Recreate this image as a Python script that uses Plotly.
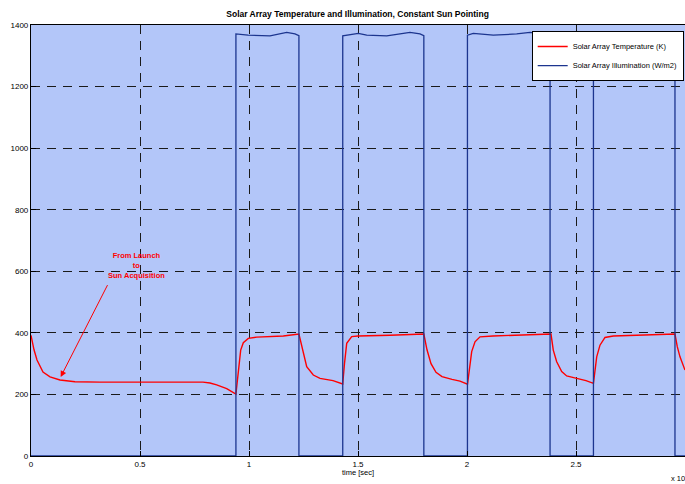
import plotly.graph_objects as go

# ---- data (time in seconds) ----
illum_t = [0, 9400, 9400, 9954, 10963, 11729, 12110, 12290, 12290,
           14300, 14300, 14482, 15014, 15399, 16317, 17385, 17844, 18020, 18020,
           20020, 20020, 20289, 20748, 21206, 22280, 22890, 23578, 23810, 23810,
           25800, 25800, 26100, 27018, 28394, 29083, 29540, 29540, 30000]
illum_v = [0, 0, 1371, 1367, 1365, 1376, 1371, 1365, 0,
           0, 1365, 1367, 1373, 1367, 1365, 1376, 1371, 1365, 0,
           0, 1367, 1373, 1371, 1367, 1371, 1376, 1370, 1366, 0,
           0, 1366, 1370, 1370, 1377, 1374, 1366, 0, 0]

temp_t = [0, 138, 275, 413, 550, 872, 1330, 2018, 3165, 7890, 8211, 8518, 8977, 9400,
          9509, 9619, 9739, 9968, 10353, 10963, 11573, 12290,
          12431, 12523, 12647, 12950, 13257, 13853, 14298,
          14380, 14482, 14711, 15000, 16468, 18020,
          18165, 18349, 18578, 18853, 19312, 19679, 20023,
          20105, 20215, 20367, 20596, 21192, 23810,
          23853, 23958, 24114, 24344, 24573, 25032, 25459, 25800,
          25950, 26100, 26330, 26711, 29450, 29540,
          29646, 29770, 30000]
temp_v = [392, 345, 312, 290, 273, 257, 247, 241, 240, 240, 237, 231, 219, 201,
          279, 344, 368, 382, 386, 388, 390, 396,
          350, 320, 290, 263, 252, 245, 234,
          300, 366, 388, 390, 392, 396,
          345, 300, 272, 258, 249, 243, 233,
          274, 339, 371, 387, 390, 396,
          396, 344, 306, 274, 260, 252, 245, 236,
          322, 360, 385, 390, 396, 396,
          355, 322, 279]

x_tickvals = [0, 5000, 10000, 15000, 20000, 25000, 30000]
x_ticktext = ["0", "0.5", "1", "1.5", "2", "2.5", "3"]
y_tickvals = [0, 200, 400, 600, 800, 1000, 1200, 1400]

FONT = "Liberation Sans, Arial, sans-serif"

fig = go.Figure()
fig.add_trace(go.Scatter(x=temp_t, y=temp_v, mode="lines",
                         name="Solar Array Temperature (K)",
                         line=dict(color="#ff0000", width=1.4)))
fig.add_trace(go.Scatter(x=illum_t, y=illum_v, mode="lines",
                         name="Solar Array Illumination (W/m2)",
                         line=dict(color="#1c358f", width=1.3)))

axis_common = dict(showline=True, mirror=True, linecolor="black", linewidth=1.2,
                   ticks="inside", ticklen=5, tickcolor="black",
                   showgrid=True, gridcolor="#1a1a1a", gridwidth=1,
                   griddash="9px,7px", zeroline=False, automargin=False,
                   tickfont=dict(size=8, color="black", family=FONT))

fig.update_xaxes(range=[0, 30000], tickvals=x_tickvals, ticktext=x_ticktext, **axis_common)
fig.update_yaxes(range=[0, 1400], tickvals=y_tickvals, **axis_common)

fig.update_layout(
    width=685, height=484,
    margin=dict(l=31, r=0, t=25, b=28, autoexpand=False),
    plot_bgcolor="#b3c6f9", paper_bgcolor="white",
    font=dict(family=FONT, color="black"),
    title=dict(text="<b>Solar Array Temperature and Illumination, Constant Sun Pointing</b>",
               x=0.522, xanchor="center", y=0.971, yanchor="middle",
               font=dict(size=8.5, family=FONT, color="black")),
    showlegend=True,
    legend=dict(x=0.998, xanchor="right", y=0.986, yanchor="top",
                bgcolor="white", bordercolor="black", borderwidth=1,
                font=dict(size=7.5, family=FONT, color="black"),
                tracegroupgap=0, itemwidth=30),
    annotations=[
        dict(text="time [sec]", xref="paper", yref="paper", x=0.5, y=-0.039,
             xanchor="center", yanchor="middle", showarrow=False,
             font=dict(size=7.5, family=FONT, color="black")),
        dict(text="x 10<sup>4</sup>", xref="paper", yref="paper", x=0.976, y=-0.05,
             xanchor="left", yanchor="middle", showarrow=False,
             font=dict(size=7.5, family=FONT, color="black")),
        dict(text="<b>From Launch<br>to<br>Sun Acquisition</b>", xref="x", yref="y",
             x=4850, y=620, xanchor="center", yanchor="middle", showarrow=False,
             font=dict(size=7.5, family=FONT, color="#ff0000")),
        dict(text="", xref="x", yref="y", x=1362, y=257,
             axref="x", ayref="y", ax=3545, ay=560,
             showarrow=True, arrowhead=2, arrowsize=1.2, arrowwidth=1,
             arrowcolor="#ff0000"),
    ],
)

fig.write_html("out.html", config={"displayModeBar": False},
               post_script="document.body.style.margin='0';document.body.style.overflow='hidden';")
